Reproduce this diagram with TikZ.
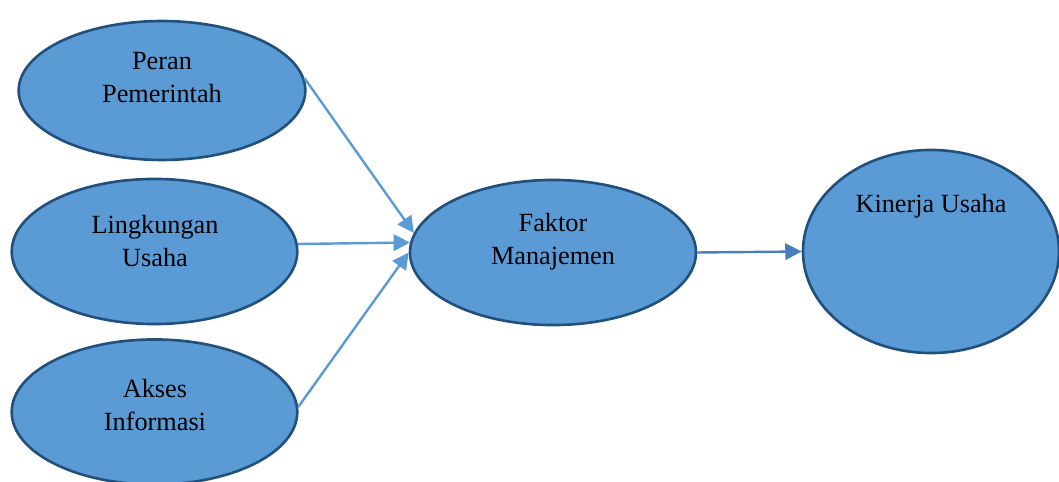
\documentclass[tikz,border=0pt]{standalone}
\usepackage{fontspec}
\setmainfont{Liberation Serif}
\usetikzlibrary{shapes.geometric,arrows.meta}

\begin{document}
\begin{tikzpicture}[
    x=0.457pt, y=-0.457pt,
    text=black,
    >={Triangle[length=7.5pt, width=7.5pt]},
    oval/.style={ellipse, draw=myborder, fill=myfill, line width=1.2pt, inner sep=0pt},
    lbl/.style={align=center, font=\fontsize{12}{15.1}\selectfont},
    arrowline/.style={->, draw=mylight, fill=mylight, line width=1.1pt},
    mainarrow/.style={->, draw=mydark, fill=mydark, line width=1.1pt}
]

% Colours
\definecolor{myfill}{HTML}{5B9BD5}
\definecolor{myborder}{HTML}{22507D}
\definecolor{mylight}{HTML}{5B9BD5}
\definecolor{mydark}{HTML}{4A7EBB}

\useasboundingbox (0,0) rectangle (1059,482);
\clip (0,0) rectangle (1059,482);

% ==================== LEFT COLUMN ====================
\node[oval, minimum width=131pt, minimum height=63.5pt] (peran) at (162, 90.5) {};
\node[oval, minimum width=130.5pt, minimum height=66.3pt] (lingkungan) at (154.5, 251.5) {};
\node[oval, minimum width=130.5pt, minimum height=66.3pt] (akses) at (154.5, 412) {};

\node[lbl] (peranlbl) at (162, 78) {Peran\\Pemerintah};
\node[lbl] (lingkunganlbl) at (155, 241) {Lingkungan\\Usaha};
\node[lbl] (akseslbl) at (155, 405) {Akses\\Informasi};

% ==================== MIDDLE ====================
\node[oval, minimum width=130.7pt, minimum height=66.3pt] (faktor) at (553, 252.5) {};
\node[lbl] (faktorlbl) at (553, 242) {Faktor\\Manajemen};

% ==================== RIGHT ====================
\node[oval, minimum width=117pt, minimum height=92.8pt] (kinerja) at (931, 251.5) {};
\node[lbl] (kinerjalbl) at (931, 206) {Kinerja Usaha};

% Arrows
\draw[arrowline] (peran.5) -- (faktor.172);
\draw[arrowline] (lingkungan.3) -- (faktor.176);
\draw[arrowline] (akses.2) -- (faktor.180);
\draw[mainarrow] (faktor.east) -- (kinerja.west);

\end{tikzpicture}
\end{document}
